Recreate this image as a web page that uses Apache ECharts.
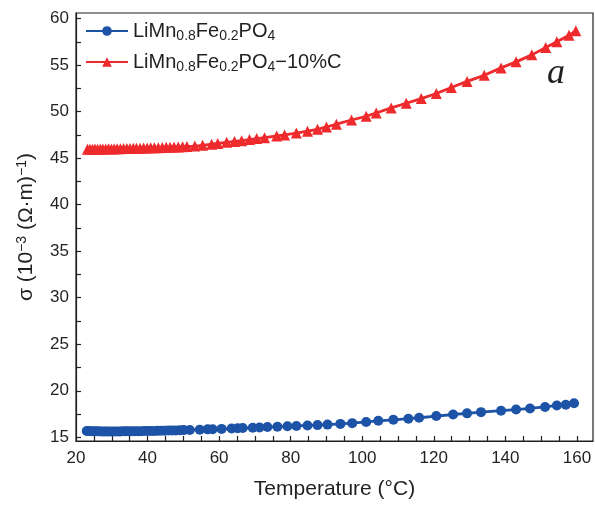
<!DOCTYPE html>
<html>
<head>
<meta charset="utf-8">
<script src="https://cdn.jsdelivr.net/npm/echarts@6/dist/echarts.min.js"></script>
<style>
  html, body { margin: 0; padding: 0; background: #fff; }
  #chart { width: 595px; height: 505px; }
</style>
</head>
<body>
<div id="chart"></div>
<script>
// temperature (°C) and conductivity (10^-3 (Ω·m)^-1)
const tempBare = [
  23.0, 23.6, 24.2, 24.9, 25.6, 26.3, 27.0, 27.7, 28.4, 29.1, 29.9, 30.7, 31.5, 32.3,
  33.1, 33.9, 34.7, 35.5, 36.4, 37.3, 38.2, 39.1, 40.0, 40.9, 41.8, 42.8, 43.8, 44.8,
  45.8, 46.8, 47.9, 49.0, 50.1, 51.8, 54.6, 56.8, 58.2, 60.7, 63.5, 65.2, 66.6, 69.4,
  71.3, 73.5, 76.3, 79.1, 81.6, 84.7, 87.5, 90.3, 93.9, 97.2, 101.1, 104.5, 108.7,
  112.9, 115.9, 120.7, 125.4, 129.3, 133.2, 138.8, 143.0, 146.9, 151.1, 154.4, 156.9, 159.2
]
const sigmaBare = [
  15.68, 15.67, 15.66, 15.66, 15.65, 15.64, 15.63, 15.63, 15.62, 15.62, 15.62, 15.63, 15.63, 15.63,
  15.64, 15.64, 15.64, 15.65, 15.65, 15.66, 15.66, 15.67, 15.67, 15.68, 15.68, 15.69, 15.70, 15.71,
  15.72, 15.73, 15.74, 15.75, 15.77, 15.79, 15.82, 15.85, 15.87, 15.90, 15.94, 15.97, 15.99, 16.03,
  16.06, 16.10, 16.14, 16.18, 16.22, 16.27, 16.31, 16.36, 16.44, 16.52, 16.65, 16.77, 16.88,
  17.00, 17.10, 17.28, 17.45, 17.57, 17.70, 17.86, 17.98, 18.10, 18.26, 18.42, 18.50, 18.66
]

const tempCoated = [
  23.2, 23.9, 24.6, 25.3, 26.0, 26.8, 27.5, 28.3, 29.1, 29.9, 30.7, 31.5, 32.4, 33.3,
  34.2, 35.1, 36.0, 36.9, 37.9, 38.9, 39.9, 40.9, 41.9, 43.0, 44.1, 45.2, 46.3, 47.4,
  48.6, 49.8, 51.0, 53.2, 55.4, 57.9, 59.6, 62.1, 64.3, 66.3, 68.5, 70.5, 72.7, 76.1,
  78.3, 81.6, 84.7, 87.5, 90.0, 92.8, 97.0, 101.1, 103.9, 108.1, 112.3, 116.5, 120.7,
  124.9, 129.3, 134.1, 138.8, 143.0, 147.4, 151.3, 154.4, 157.8, 159.7
]
const sigmaCoated = [
  45.95, 45.96, 45.95, 45.97, 45.96, 45.98, 45.97, 45.99, 46.00, 45.99, 46.01, 46.02, 46.01, 46.03,
  46.04, 46.04, 46.06, 46.07, 46.07, 46.09, 46.10, 46.11, 46.12, 46.13, 46.15, 46.16, 46.17, 46.19,
  46.20, 46.22, 46.25, 46.30, 46.38, 46.50, 46.58, 46.70, 46.80, 46.88, 47.00, 47.10, 47.20, 47.38,
  47.50, 47.70, 47.90, 48.10, 48.35, 48.65, 49.10, 49.50, 49.85, 50.40, 50.90, 51.40, 51.95,
  52.60, 53.25, 53.90, 54.70, 55.35, 56.10, 56.90, 57.50, 58.20, 58.70
]

const seriesNames = ['LiMn0.8Fe0.2PO4', 'LiMn0.8Fe0.2PO4-10%C']
const legendLabels = [
  'LiMn{s|0.8}Fe{s|0.2}PO{s|4}',
  'LiMn{s|0.8}Fe{s|0.2}PO{s|4}−10%C'
]

const xLabelValues = [20, 40, 60, 80, 100, 120, 140, 160]
const xTickValues = [25, 30, 35, 40, 45, 50, 55, 60, 65, 70, 75, 80, 85, 90, 95, 100,
  105, 110, 115, 120, 125, 130, 135, 140, 145, 150, 155, 160]
const yLabelValues = [15, 20, 25, 30, 35, 40, 45, 50, 55, 60]
const yTickValues = [15, 17.5, 20, 22.5, 25, 27.5, 30, 32.5, 35, 37.5, 40, 42.5,
  45, 47.5, 50, 52.5, 55, 57.5, 60]

const ink = '#231f20'
const blue = '#1d53a7'
const red = '#ee2a2c'
const font = 'Liberation Sans'

const zip = (xs, ys) => xs.map((x, i) => [x, ys[i]])

const chart = echarts.init(document.getElementById('chart'))

chart.setOption({
  animation: false,
  backgroundColor: '#fff',
  textStyle: { fontFamily: font, color: ink },
  grid: {
    left: 76, right: 2, top: 13, bottom: 61,
    show: true, borderColor: ink, borderWidth: 1.2
  },
  legend: {
    orient: 'vertical',
    left: 80, top: 14,
    itemWidth: 42, itemHeight: 12, itemGap: 7,
    data: seriesNames,
    formatter: name => legendLabels[seriesNames.indexOf(name)],
    textStyle: {
      fontSize: 20, color: ink, fontFamily: font, lineHeight: 24,
      rich: {
        s: { fontSize: 14, fontFamily: font, color: ink, lineHeight: 24, verticalAlign: 'bottom', padding: [6, 0, 0, 0] }
      }
    }
  },
  graphic: [{
    type: 'text',
    left: 547, top: 56,
    style: {
      text: 'a',
      fontFamily: 'Liberation Serif',
      fontStyle: 'italic',
      fontSize: 36,
      fill: ink
    }
  }],
  xAxis: {
    type: 'value',
    min: 20, max: 164.5,
    name: 'Temperature (°C)',
    nameLocation: 'middle',
    nameGap: 38,
    nameTextStyle: { fontSize: 21, color: ink, fontFamily: font },
    axisLine: { lineStyle: { color: ink, width: 1.2 } },
    axisTick: { inside: true, length: 5, customValues: xTickValues, lineStyle: { color: ink, width: 1.2 } },
    axisLabel: { customValues: xLabelValues, fontSize: 17, color: ink, margin: 9 },
    splitLine: { show: false }
  },
  yAxis: {
    type: 'value',
    min: 14.6, max: 60.6,
    name: 'σ (10{sup|−3} (Ω·m){sup|−1})',
    nameLocation: 'middle',
    nameGap: 38,
    nameRotate: 90,
    nameTextStyle: {
      fontSize: 21, color: ink, fontFamily: font,
      rich: {
        sup: { fontSize: 14, fontFamily: font, color: ink, verticalAlign: 'top', padding: [0, 0, 9, 0] }
      }
    },
    axisLine: { lineStyle: { color: ink, width: 1.2 } },
    axisTick: { inside: true, length: 5, customValues: yTickValues, lineStyle: { color: ink, width: 1.2 } },
    axisLabel: { customValues: yLabelValues, fontSize: 17, color: ink, margin: 7 },
    splitLine: { show: false }
  },
  series: [
    {
      name: seriesNames[0],
      type: 'line',
      data: zip(tempBare, sigmaBare),
      symbol: 'circle',
      symbolSize: 10,
      color: blue,
      lineStyle: { width: 2.8, color: blue },
      itemStyle: { color: blue }
    },
    {
      name: seriesNames[1],
      type: 'line',
      data: zip(tempCoated, sigmaCoated),
      symbol: 'triangle',
      symbolSize: 11,
      color: red,
      lineStyle: { width: 2.8, color: red },
      itemStyle: { color: red }
    }
  ]
})
</script>
</body>
</html>
